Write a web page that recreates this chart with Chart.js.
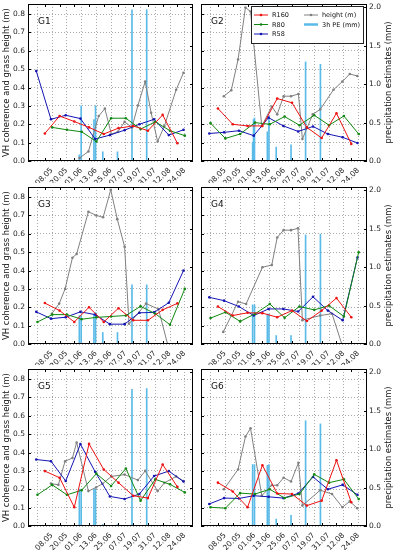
<!DOCTYPE html>
<html>
<head>
<meta charset="utf-8">
<script src="https://cdn.jsdelivr.net/npm/chart.js@4.4.1/dist/chart.umd.min.js"></script>
<style>
  body { margin: 0; background: #fff; }
  #wrap { position: relative; width: 393px; height: 550px; overflow: hidden; }
  canvas { position: absolute; }
</style>
</head>
<body>
<div id="wrap">
  <canvas id="g1" width="197" height="183" style="left:0;top:0"></canvas>
  <canvas id="g2" width="196" height="183" style="left:197px;top:0"></canvas>
  <canvas id="g3" width="197" height="182" style="left:0;top:183px"></canvas>
  <canvas id="g4" width="196" height="182" style="left:197px;top:183px"></canvas>
  <canvas id="g5" width="197" height="185" style="left:0;top:365px"></canvas>
  <canvas id="g6" width="196" height="185" style="left:197px;top:365px"></canvas>
</div>
<script>
// days counted from 01.05
const tickDays = [7, 19, 31, 43, 55, 67, 79, 91, 103, 115]
const tickLabels = ['08.05', '20.05', '01.06', '13.06', '25.06', '07.07', '19.07', '31.07', '12.08', '24.08']
const leftTicks = [0, 0.1, 0.2, 0.3, 0.4, 0.5, 0.6, 0.7, 0.8]
const rightTicks = [0, 0.5, 1.0, 1.5, 2.0]

const r160Days = [7, 19, 31, 43, 55, 67, 79, 91, 103, 115]
const r80Days = [1, 13, 25, 37, 49, 61, 73, 85, 97, 109, 121]
const r58Days = [0, 12, 24, 36, 48, 60, 72, 84, 96, 108, 120]
const rainDays = [35.1, 35.8, 36.6, 47, 48.3, 54.2, 66.2, 78, 90]

const g1R160 = [0.150, 0.245, 0.215, 0.183, 0.147, 0.179, 0.191, 0.165, 0.251, 0.097]
const g1R80 = [null, 0.183, 0.170, 0.159, 0.106, 0.233, 0.233, 0.174, 0.213, 0.165, 0.138]
const g1R58 = [0.49, 0.227, 0.249, 0.231, 0.120, 0.141, 0.168, 0.200, 0.227, 0.141, 0.170]
const g1HeightDays = [35.3, 42.5, 50.9, 55.9, 61.2, 66.5, 72, 78, 82.8, 88.8, 93.6, 98.9, 104.4, 114, 120]
const g1Height = [0.016, 0.052, 0.245, 0.285, 0.147, 0.159, 0.213, 0.183, 0.302, 0.433, 0.263, 0.106, 0.191, 0.388, 0.481]
const g1Rain = [0.08, 0, 0.72, 0.54, 0.72, 0.12, 0.12, 1.97, 1.97]

const g2R160 = [0.286, 0.200, 0.191, 0.191, 0.340, 0.317, 0.183, 0.125, 0.260, 0.093]
const g2R80 = [0.206, 0.123, 0.147, 0.209, 0.200, 0.242, 0.195, 0.249, 0.195, 0.245, 0.147]
const g2R58 = [0.150, 0.156, 0.165, 0.138, 0.236, 0.191, 0.161, 0.188, 0.147, 0.129, 0.098]
const g2HeightDays = [11.8, 17.8, 23.3, 29.3, 33.4, 42.5, 50.6, 55, 60.2, 66.2, 72.2, 75.4, 83.8, 89.8, 100.6, 107.8, 113.8, 119.8]
const g2Height = [0.353, 0.385, 0.553, 0.836, 0.814, 0.190, 0.297, 0.254, 0.353, 0.353, 0.365, 0.120, 0.254, 0.281, 0.388, 0.433, 0.474, 0.463]
const g2Rain = [0.24, 0.54, 0.56, 0.38, 0.58, 0.18, 0.21, 1.29, 1.26]

const g3R160 = [0.223, 0.182, 0.120, 0.200, 0.120, 0.195, 0.129, 0.129, 0.186, 0.221]
const g3R80 = [0.12, 0.16, 0.16, 0.135, 0.145, 0.15, 0.155, 0.205, 0.165, 0.105, 0.30]
const g3R58 = [0.175, 0.138, 0.146, 0.175, 0.160, 0.108, 0.108, 0.170, 0.172, 0.225, 0.400]
const g3HeightDays = [12.7, 18.7, 23.5, 29.5, 32.9, 42.5, 49, 54.5, 60.7, 66, 72, 75.6, 89.5, 99.6, 107]
const g3Height = [0.165, 0.22, 0.30, 0.47, 0.49, 0.72, 0.70, 0.69, 0.84, 0.68, 0.53, 0.11, 0.22, 0.19, 0.0]
const g3Rain = [0.37, 0, 0.37, 0.39, 0.41, 0.15, 0.15, 0.77, 0.77]

const g4R160 = [0.204, 0.155, 0.170, 0.168, 0.146, 0.182, 0.125, 0.182, 0.250, 0.146]
const g4R80 = [0.141, 0.173, 0.123, 0.164, 0.218, 0.143, 0.204, 0.186, 0.209, 0.150, 0.500]
const g4R58 = [0.254, 0.236, 0.204, 0.155, 0.191, 0.191, 0.177, 0.257, 0.182, 0.129, 0.471]
const g4HeightDays = [11.3, 23.3, 29.8, 43, 50.6, 55, 60.2, 66.2, 71.8, 75.4, 89.8, 99.4, 107.3]
const g4Height = [0.066, 0.230, 0.218, 0.418, 0.430, 0.580, 0.620, 0.620, 0.630, 0.130, 0.155, 0.165, 0.0]
const g4Rain = [0.51, 0, 0.51, 0.39, 0.39, 0.11, 0.11, 1.42, 1.43]

const g5R160 = [0.299, 0.263, 0.102, 0.447, 0.308, 0.236, 0.165, 0.152, 0.335, 0.213]
const g5R80 = [0.170, 0.224, 0.170, 0.195, 0.285, 0.218, 0.313, 0.138, 0.254, 0.227, 0.183]
const g5R58 = [0.362, 0.353, 0.245, 0.446, 0.295, 0.161, 0.147, 0.174, 0.272, 0.299, 0.242]
const g5HeightDays = [12, 18, 23.5, 29.5, 32.9, 42.5, 48.7, 54, 61.2, 72, 82.8, 88.8, 98.9, 104.4, 114, 120]
const g5Height = [0.231, 0.224, 0.353, 0.370, 0.455, 0.190, 0.210, 0.230, 0.270, 0.280, 0.250, 0.300, 0.190, 0.235, 0.270, 0.245]
const g5Rain = [0.48, 0, 0.48, 0.48, 0.48, 0.02, 0.02, 1.78, 1.79]

const g6R160 = [0.236, 0.188, 0.102, 0.331, 0.177, 0.174, 0.111, 0.138, 0.358, 0.129]
const g6R80 = [0.102, 0.097, 0.179, 0.174, 0.200, 0.152, 0.174, 0.281, 0.236, 0.254, 0.147]
const g6R58 = [0.120, 0.152, 0.150, 0.165, 0.159, 0.152, 0.177, 0.267, 0.200, 0.224, 0.170]
const g6HeightDays = [11.8, 23.3, 29.3, 33.4, 42.5, 50.6, 55, 60.2, 66.2, 72.2, 75.4, 89.8, 99.4, 107.8, 113.8, 119.8]
const g6Height = [0.200, 0.308, 0.487, 0.532, 0.165, 0.222, 0.222, 0.263, 0.242, 0.344, 0.111, 0.195, 0.174, 0.102, 0.134, 0.097]
const g6Rain = [0.80, 0, 0.80, 0.79, 0.80, 0.09, 0.14, 1.37, 1.33]

const FONT = '"DejaVu Sans", sans-serif'
Chart.defaults.font.family = FONT

const colors = { r160: '#ee1111', r80: '#118811', r58: '#1414b4', height: '#808080', rain: '#5bbbe8' }

const pairs = (xs, ys) => xs.map((x, i) => ({ x: x, y: ys[i] }))

const fit = (w, h) => (s) => {
    if (w !== undefined) s.width = w
    if (h !== undefined) s.height = h
    s.paddingLeft = 0
    s.paddingRight = 0
    s.paddingTop = 0
    s.paddingBottom = 0
}

const lineSet = (label, xs, ys, color) => ({
    type: 'line',
    label: label,
    data: pairs(xs, ys),
    borderColor: color,
    backgroundColor: color,
    borderWidth: 1,
    pointRadius: 1.3,
    pointBorderWidth: 0,
    pointBackgroundColor: color,
    tension: 0,
    yAxisID: 'y',
    order: 1,
})

const drawLegend = (ctx, a) => {
    const w = 112, h = 37
    const bx = a.right - 4 - w, by = a.top + 2
    ctx.fillStyle = '#fff'
    ctx.fillRect(bx, by, w, h)
    ctx.strokeStyle = '#222'
    ctx.lineWidth = 1
    ctx.strokeRect(bx + 0.5, by + 0.5, w, h)
    const items = [
        ['R160', colors.r160, 0, 0],
        ['R80', colors.r80, 0, 1],
        ['R58', colors.r58, 0, 2],
        ['height (m)', colors.height, 1, 0],
        ['3h PE (mm)', colors.rain, 1, 1],
    ]
    ctx.font = '6.5px ' + FONT
    ctx.textBaseline = 'middle'
    ctx.textAlign = 'left'
    items.forEach(([name, c, col, row]) => {
        const x0 = bx + 3 + col * 50
        const y0 = by + 9 + row * 9.5
        ctx.strokeStyle = c
        ctx.lineWidth = name === '3h PE (mm)' ? 2.5 : 1
        ctx.beginPath()
        ctx.moveTo(x0, y0)
        ctx.lineTo(x0 + 14, y0)
        ctx.stroke()
        if (name !== '3h PE (mm)') {
            ctx.fillStyle = c
            ctx.beginPath()
            ctx.arc(x0 + 7, y0, 1.3, 0, Math.PI * 2)
            ctx.fill()
        }
        ctx.fillStyle = '#111'
        ctx.fillText(name, x0 + 18, y0 + 0.5)
    })
}

const panelPlugin = {
    id: 'panel',
    afterDraw(chart, args, o) {
        const { ctx, chartArea: a, scales } = chart
        ctx.save()
        ctx.strokeStyle = '#000'
        ctx.lineWidth = 1
        ctx.beginPath()
        scales.x.ticks.forEach((t) => {
            const x = Math.round(scales.x.getPixelForValue(t.value)) + 0.5
            ctx.moveTo(x, a.bottom)
            ctx.lineTo(x, a.bottom - 3)
            ctx.moveTo(x, a.top)
            ctx.lineTo(x, a.top + 3)
        })
        scales.y.ticks.forEach((t) => {
            const y = Math.round(scales.y.getPixelForValue(t.value)) + 0.5
            ctx.moveTo(a.left, y)
            ctx.lineTo(a.left + 3, y)
        })
        scales.y2.ticks.forEach((t) => {
            const y = Math.round(scales.y2.getPixelForValue(t.value)) + 0.5
            ctx.moveTo(a.right, y)
            ctx.lineTo(a.right - 3, y)
        })
        ctx.stroke()
        ctx.strokeRect(a.left + 0.5, a.top + 0.5, a.right - a.left - 1, a.bottom - a.top - 1)

        ctx.fillStyle = '#111'
        ctx.font = '9px ' + FONT
        ctx.textAlign = 'left'
        ctx.textBaseline = 'alphabetic'
        ctx.fillText(o.name, a.left + 10, a.top + 20)

        const mid = (a.top + a.bottom) / 2
        ctx.font = '8.4px ' + FONT
        ctx.textAlign = 'center'
        ctx.textBaseline = 'middle'
        ctx.translate(o.left ? 6.5 : chart.width - 4.5, mid)
        ctx.rotate(-Math.PI / 2)
        ctx.fillText(o.left ? 'VH coherence and grass height (m)' : 'precipitation estimates (mm)', 0, 0)
        ctx.restore()

        if (o.legend) {
            ctx.save()
            drawLegend(ctx, a)
            ctx.restore()
        }
    },
}

const makePanel = (id, p) => {
    const el = document.getElementById(id)
    const xh = el.height - 161
    return new Chart(el, {
        type: 'line',
        data: {
            datasets: [
                lineSet('R160', r160Days, p.r160, colors.r160),
                lineSet('R80', r80Days, p.r80, colors.r80),
                lineSet('R58', r58Days, p.r58, colors.r58),
                lineSet('height (m)', p.heightDays, p.height, colors.height),
                {
                    type: 'bar',
                    label: '3h PE (mm)',
                    data: pairs(rainDays, p.rain),
                    backgroundColor: colors.rain,
                    borderWidth: 0,
                    barThickness: 1,
                    yAxisID: 'y2',
                    order: 5,
                },
            ],
        },
        options: {
            responsive: false,
            animation: false,
            devicePixelRatio: 1,
            layout: { padding: { top: p.top, left: 0, right: 0, bottom: 0 } },
            plugins: {
                legend: { display: false },
                tooltip: { enabled: false },
                panel: { name: p.name, left: p.left, legend: p.legend },
            },
            scales: {
                x: {
                    type: 'linear',
                    min: 0,
                    max: 121,
                    afterBuildTicks: (s) => { s.ticks = tickDays.map((v) => ({ value: v })) },
                    afterFit: fit(undefined, xh),
                    ticks: {
                        autoSkip: false,
                        minRotation: 45,
                        maxRotation: 45,
                        labelOffset: 7,
                        padding: 5,
                        color: '#222',
                        font: { size: 7.5 },
                        callback: (v, i) => tickLabels[i],
                    },
                    grid: { color: '#aaaaaa', lineWidth: 1, drawTicks: false },
                    border: { display: false, dash: [1, 2] },
                },
                y: {
                    position: 'left',
                    min: 0,
                    max: 0.855,
                    afterBuildTicks: (s) => { s.ticks = leftTicks.map((v) => ({ value: v })) },
                    afterFit: fit(p.left ? 28 : 2),
                    ticks: {
                        display: p.left,
                        padding: 3,
                        color: '#222',
                        font: { size: 7.5 },
                        callback: (v) => v.toFixed(1),
                    },
                    grid: { color: '#aaaaaa', lineWidth: 1, drawTicks: false },
                    border: { display: false, dash: [1, 2] },
                },
                y2: {
                    position: 'right',
                    min: 0,
                    max: 2.045,
                    afterBuildTicks: (s) => { s.ticks = rightTicks.map((v) => ({ value: v })) },
                    afterFit: fit(p.left ? 2 : 26),
                    ticks: {
                        display: !p.left,
                        padding: 2,
                        color: '#222',
                        font: { size: 7.5 },
                        callback: (v) => v.toFixed(1),
                    },
                    grid: { display: false, drawTicks: false },
                    border: { display: false },
                },
            },
        },
        plugins: [panelPlugin],
    })
}

makePanel('g1', { name: 'G1', left: true, top: 3, r160: g1R160, r80: g1R80, r58: g1R58, heightDays: g1HeightDays, height: g1Height, rain: g1Rain })
makePanel('g2', { name: 'G2', left: false, legend: true, top: 3, r160: g2R160, r80: g2R80, r58: g2R58, heightDays: g2HeightDays, height: g2Height, rain: g2Rain })
makePanel('g3', { name: 'G3', left: true, top: 2, r160: g3R160, r80: g3R80, r58: g3R58, heightDays: g3HeightDays, height: g3Height, rain: g3Rain })
makePanel('g4', { name: 'G4', left: false, top: 2, r160: g4R160, r80: g4R80, r58: g4R58, heightDays: g4HeightDays, height: g4Height, rain: g4Rain })
makePanel('g5', { name: 'G5', left: true, top: 2, r160: g5R160, r80: g5R80, r58: g5R58, heightDays: g5HeightDays, height: g5Height, rain: g5Rain })
makePanel('g6', { name: 'G6', left: false, top: 2, r160: g6R160, r80: g6R80, r58: g6R58, heightDays: g6HeightDays, height: g6Height, rain: g6Rain })
</script>
</body>
</html>
